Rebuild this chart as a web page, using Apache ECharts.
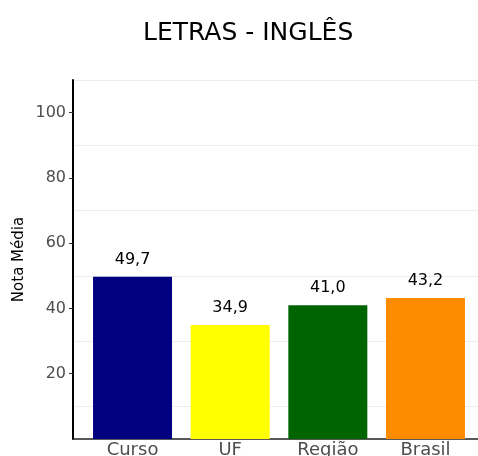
<!DOCTYPE html>
<html>
<head>
<meta charset="utf-8">
<script src="https://cdn.jsdelivr.net/npm/echarts@6/dist/echarts.min.js"></script>
<style>
  html, body { margin: 0; padding: 0; background: #fff; }
  #main { width: 478px; height: 456px; }
</style>
</head>
<body>
<div id="main"></div>
<script>
// dados do gráfico
var categorias = ['Curso', 'UF', 'Região', 'Brasil'];
var notas = [49.7, 34.9, 41.0, 43.2];
var cores = ['#000080', '#FFFF00', '#006400', '#FF8C00'];
var ticksY = [20, 40, 60, 80, 100];

var fonte = 'DejaVu Sans';

var myChart = echarts.init(document.getElementById('main'));

myChart.setOption({
  animation: false,
  title: {
    text: 'LETRAS - INGLÊS',
    left: 138,
    top: 16,
    textStyle: { fontFamily: fonte, fontSize: 25, fontWeight: 'normal', color: '#000' }
  },
  grid: [
    // painel com linhas de grade e eixos
    { left: 73, right: 0, top: 80, bottom: 17, outerBoundsMode: 'none' },
    // painel das barras (expansão do eixo discreto)
    { left: 83.7, right: 3.7, top: 112.6, bottom: 17, outerBoundsMode: 'none' }
  ],
  xAxis: [
    {
      gridIndex: 0, type: 'value', min: 0, max: 1,
      axisLine: { show: true, lineStyle: { color: '#222', width: 1.5 } },
      axisTick: { show: false }, axisLabel: { show: false }, splitLine: { show: false }
    },
    {
      gridIndex: 1, type: 'category', data: categorias,
      axisLine: { show: false }, axisTick: { show: false },
      axisLabel: { margin: 2, fontFamily: fonte, fontSize: 18, color: '#4d4d4d' }
    }
  ],
  yAxis: [
    {
      gridIndex: 0, type: 'value', min: 0, max: 110, interval: 10,
      name: 'Nota Média', nameLocation: 'middle', nameGap: 46,
      nameTextStyle: { fontFamily: fonte, fontSize: 15, color: '#000' },
      axisLine: { show: true, lineStyle: { color: '#000', width: 2 } },
      axisTick: { show: false }, axisLabel: { show: false },
      splitLine: { show: true, lineStyle: { color: ['rgba(0,0,0,0)', '#ededed'], width: 1 } }
    },
    {
      gridIndex: 1, type: 'value', min: 0, max: 100, interval: 20, offset: 10.7,
      axisLine: { show: false },
      axisTick: { show: true, length: 4, customValues: ticksY, lineStyle: { color: '#333' } },
      axisLabel: {
        margin: 7, fontFamily: fonte, fontSize: 16, color: '#4d4d4d',
        customValues: ticksY
      },
      splitLine: { show: false }
    }
  ],
  series: [{
    type: 'bar',
    xAxisIndex: 1,
    yAxisIndex: 1,
    barWidth: 79,
    data: notas.map(function (v, i) {
      return { value: v, itemStyle: { color: cores[i] } };
    }),
    label: {
      show: true, position: 'top', distance: 9,
      fontFamily: fonte, fontSize: 16, color: '#000',
      formatter: function (p) { return p.value.toFixed(1).replace('.', ','); }
    }
  }]
});
</script>
</body>
</html>
